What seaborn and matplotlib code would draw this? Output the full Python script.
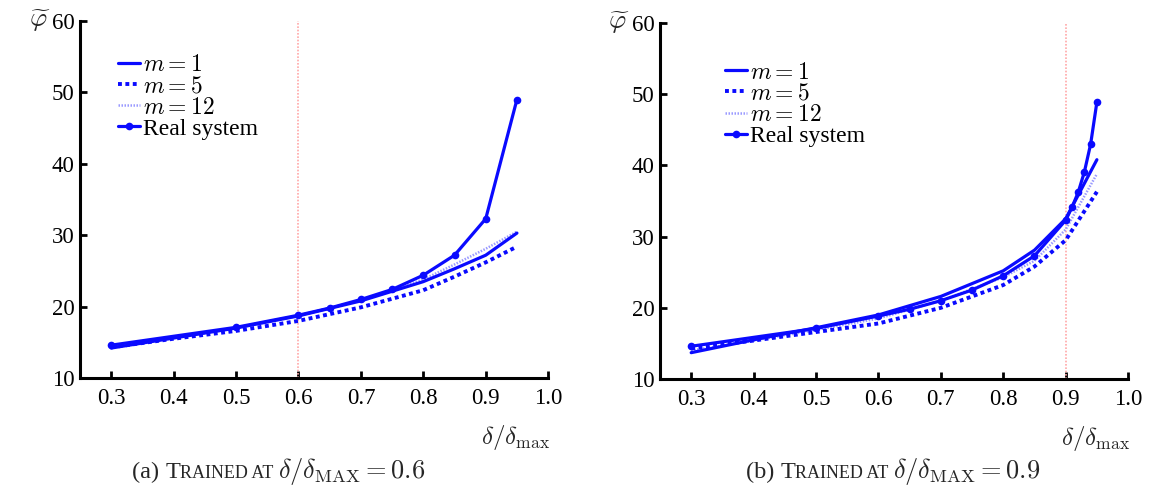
import numpy as np
import pandas as pd
import matplotlib
matplotlib.use("Agg")
import matplotlib.pyplot as plt
import seaborn as sns

# ---------------- data ----------------
# (a) trained at 0.6
a_real_x = [0.3, 0.5, 0.6, 0.65, 0.7, 0.75, 0.8, 0.85, 0.9, 0.95]
a_real_y = [14.6, 17.1, 18.8, 19.8, 21.0, 22.4, 24.4, 27.2, 32.3, 49.0]
a_model_x = [0.3, 0.4, 0.5, 0.6, 0.7, 0.8, 0.85, 0.9, 0.95]
a_m1_y = [14.2, 15.6, 17.0, 18.7, 20.8, 23.5, 25.3, 27.2, 30.3]
a_m5_y = [14.3, 15.5, 16.6, 18.0, 19.9, 22.3, 24.2, 26.2, 28.4]
a_m12_y = [14.3, 15.6, 17.0, 18.7, 20.9, 23.8, 25.9, 28.1, 30.5]

# (b) trained at 0.9
b_real_x = [0.3, 0.5, 0.6, 0.65, 0.7, 0.75, 0.8, 0.85, 0.9, 0.91, 0.92, 0.93, 0.94, 0.95]
b_real_y = [14.6, 17.1, 18.85, 19.8, 21.0, 22.5, 24.5, 27.3, 32.3, 34.1, 36.2, 39.1, 43.0, 48.9]
b_model_x = [0.3, 0.4, 0.5, 0.6, 0.7, 0.8, 0.85, 0.9, 0.95]
b_m1_y = [13.7, 15.5, 17.2, 19.0, 21.6, 25.2, 28.1, 32.5, 40.8]
b_m5_y = [14.3, 15.4, 16.6, 17.8, 20.0, 23.2, 25.8, 29.5, 36.3]
b_m12_y = [14.0, 15.4, 16.9, 18.5, 21.0, 24.3, 26.6, 31.0, 38.8]

trained_at = [0.6, 0.9]
xticks = [0.3, 0.4, 0.5, 0.6, 0.7, 0.8, 0.9, 1.0]
yticks = [10, 20, 30, 40, 50, 60]
legend_labels = ["$m = 1$", "$m = 5$", "$m = 12$", "Real system"]
panel_letters = ["(a)", "(b)"]

# ---------------- style ----------------
sns.set_style("ticks")
plt.rcParams["font.family"] = ["Liberation Serif", "DejaVu Serif"]
plt.rcParams["mathtext.fontset"] = "cm"

BLUE = "#0a0aff"
fig = plt.figure(figsize=(11.53, 4.97), dpi=100)
ax_a = fig.add_axes([0.0694, 0.2394, 0.406, 0.7183])
ax_b = fig.add_axes([0.5724, 0.2374, 0.406, 0.7163])

panels = [
    (ax_a, a_model_x, a_m1_y, a_m5_y, a_m12_y, a_real_x, a_real_y, (0.081, 0.905)),
    (ax_b, b_model_x, b_m1_y, b_m5_y, b_m12_y, b_real_x, b_real_y, (0.139, 0.89)),
]

for i, (ax, mx, m1, m5, m12, rx, ry, legpos) in enumerate(panels):
    ax.axvline(trained_at[i], color="#ffa8a8", lw=1.2, ls=(0, (1, 1)), zorder=1)
    dm = pd.DataFrame({"x": mx, "m1": m1, "m5": m5, "m12": m12})
    dr = pd.DataFrame({"x": rx, "y": ry})
    sns.lineplot(data=dm, x="x", y="m1", ax=ax, color=BLUE, lw=2.3,
                 label=legend_labels[0], zorder=4)
    sns.lineplot(data=dm, x="x", y="m5", ax=ax, color=BLUE, lw=2.8,
                 ls=(0, (1, 0.9)), label=legend_labels[1], zorder=3)
    sns.lineplot(data=dm, x="x", y="m12", ax=ax, color="#9a9aff", lw=1.8,
                 ls=(0, (0.6, 0.6)), label=legend_labels[2], zorder=2)
    sns.lineplot(data=dr, x="x", y="y", ax=ax, color=BLUE, lw=2.3,
                 marker="o", markersize=5.5, markeredgewidth=0,
                 label=legend_labels[3], zorder=5)

    ax.set_xlim(0.25, 1.0)
    ax.set_ylim(10, 60)
    ax.set_xticks(xticks)
    ax.set_xticklabels([f"{v:.1f}" for v in xticks])
    ax.set_yticks(yticks)
    ax.set_xlabel("")
    ax.set_ylabel("")
    for s in ["top", "right"]:
        ax.spines[s].set_visible(False)
    for s in ["left", "bottom"]:
        ax.spines[s].set_linewidth(2.2)
        ax.spines[s].set_color("black")
    ax.tick_params(direction="in", length=5, width=2, labelsize=16.5,
                   colors="black", pad=4)
    ax.tick_params(axis="x", pad=7)

    leg = ax.legend(loc="upper left", bbox_to_anchor=legpos, frameon=False,
                    fontsize=17, handlelength=0.95, handletextpad=0.12,
                    labelspacing=-0.02, borderpad=0, borderaxespad=0)
    for t in leg.get_texts():
        t.set_color("black")

    # y label (phi tilde) and x label
    ax.text(-0.064, 1.0, r"$\widetilde{\varphi}$", transform=ax.transAxes,
            fontsize=19, ha="right", va="center")
    ax.text(0.93, -0.125, r"$\delta/\delta_{\mathrm{max}}$", transform=ax.transAxes,
            fontsize=18, ha="center", va="top")

# ---------------- captions with small caps ----------------
fig.canvas.draw()
renderer = fig.canvas.get_renderer()


def place_parts(x_px, y_px, parts):
    x = x_px
    for s, size in parts:
        t = fig.text(x / 1153, 1 - y_px / 497, s, fontsize=size,
                     ha="left", va="baseline")
        bb = t.get_window_extent(renderer=renderer)
        x = bb.x1


caption_start = [132, 746]
for i in range(2):
    parts = [
        (panel_letters[i] + " ", 17.5),
        ("T", 17.5),
        ("RAINED AT ", 13),
        (r"$\delta/\delta_{\mathrm{MAX}} = " + f"{trained_at[i]}" + "$", 19),
    ]
    place_parts(caption_start[i], 478, parts)

fig.savefig("out.png", dpi=100)
